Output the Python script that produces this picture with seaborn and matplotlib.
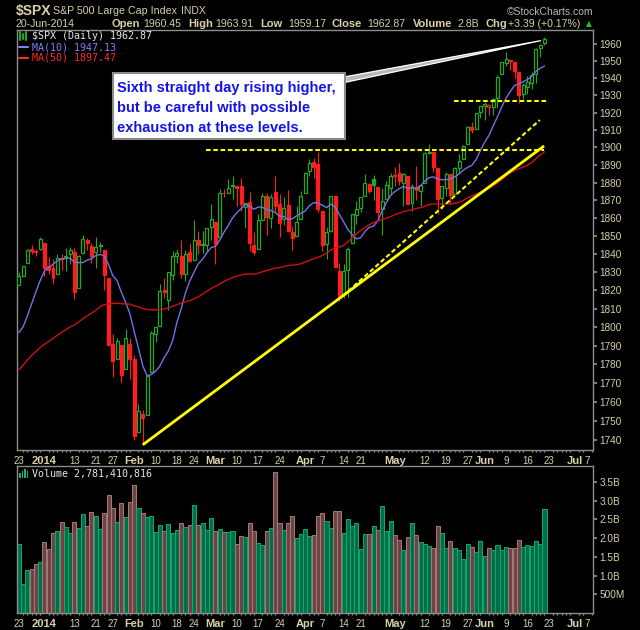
import numpy as np
import pandas as pd
import matplotlib
matplotlib.use('Agg')
import matplotlib.pyplot as plt
import matplotlib.ticker as mticker
from matplotlib.patches import Rectangle
from matplotlib.lines import Line2D
import seaborn as sns

sns.set_theme(style='dark', rc={'axes.facecolor': 'black', 'figure.facecolor': 'black',
                                'axes.edgecolor': '#8c8c8c', 'axes.linewidth': 1.0})
plt.rcParams['font.family'] = ['Liberation Sans', 'DejaVu Sans']

# trading calendar
holidays = ['2013-12-25', '2014-01-01', '2014-01-20', '2014-02-17',
            '2014-04-18', '2014-05-26', '2014-07-04']
days = pd.bdate_range('2013-12-23', '2014-07-11')
days = days[~days.isin(pd.to_datetime(holidays))]

# closes before the window (for moving averages)
prior_close = [1710.14, 1698.06, 1721.54, 1733.15, 1744.50, 1744.66, 1754.67, 1746.38, 1752.07, 1759.77,
               1762.11, 1771.95, 1763.31, 1756.54, 1761.64, 1767.93, 1762.97, 1770.49, 1747.15, 1770.61,
               1771.89, 1767.69, 1782.00, 1790.62, 1798.18, 1791.53, 1787.87, 1781.37, 1795.85, 1804.76,
               1802.48, 1802.75, 1807.23, 1805.81, 1800.90, 1795.15, 1792.81, 1785.03, 1805.09, 1808.37,
               1802.62, 1782.22, 1775.50, 1775.32, 1786.54, 1781.00, 1810.65, 1809.60, 1818.32]

open_ = [1822.9, 1828.0, 1834.96, 1842.97, 1841.5, 1842.6, 1845.9, 1833.2, 1832.3, 1828.7,
         1837.9, 1839.0, 1840.1, 1841.3, 1821.4, 1840.5, 1847.99, 1844.2, 1841.1, 1844.7,
         1842.3, 1826.96, 1791.0, 1783.0, 1790.2, 1777.2, 1790.9, 1782.7, 1743.8, 1753.4,
         1752.99, 1776.0, 1796.2, 1800.4, 1820.1, 1814.8, 1828.5, 1839.0, 1838.9, 1829.2,
         1841.1, 1836.8, 1847.7, 1845.8, 1844.9, 1855.1, 1857.7, 1849.2, 1874.1, 1874.2,
         1878.5, 1877.9, 1878.3, 1866.2, 1869.1, 1845.1, 1842.8, 1858.9, 1872.3, 1860.1,
         1874.5, 1867.7, 1859.5, 1867.1, 1852.1, 1850.1, 1859.2, 1873.96, 1886.6, 1891.4,
         1890.3, 1863.9, 1845.5, 1852.6, 1872.3, 1830.7, 1818.2, 1831.4, 1846.0, 1861.7,
         1865.8, 1872.6, 1879.3, 1881.97, 1877.7, 1865.0, 1870.8, 1877.1, 1884.4, 1885.3,
         1879.5, 1883.7, 1868.5, 1877.4, 1875.3, 1880.0, 1896.8, 1897.1, 1888.2, 1871.2,
         1876.7, 1884.9, 1873.3, 1888.2, 1893.3, 1902.0, 1911.8, 1910.6, 1920.3, 1923.9,
         1923.1, 1923.1, 1928.5, 1942.4, 1948.97, 1950.3, 1949.4, 1943.4, 1930.8, 1934.8,
         1937.2, 1942.7, 1957.5, 1960.45]
high = [1829.8, 1833.3, 1842.8, 1844.9, 1842.5, 1849.4, 1846.0, 1838.2, 1837.2, 1840.1,
        1840.0, 1843.2, 1843.8, 1843.5, 1839.3, 1850.8, 1848.6, 1846.0, 1849.3, 1846.9,
        1842.3, 1826.96, 1795.98, 1793.9, 1790.2, 1798.8, 1793.9, 1784.8, 1758.7, 1755.8,
        1774.1, 1798.0, 1799.9, 1823.5, 1826.6, 1830.3, 1841.7, 1842.9, 1847.5, 1842.2,
        1846.1, 1858.7, 1852.9, 1852.7, 1854.5, 1867.9, 1857.7, 1876.2, 1876.5, 1881.9,
        1883.6, 1877.9, 1882.4, 1868.4, 1874.4, 1852.4, 1862.3, 1873.8, 1874.1, 1873.5,
        1883.97, 1873.3, 1871.9, 1875.9, 1855.6, 1866.6, 1875.2, 1885.8, 1893.2, 1893.8,
        1897.3, 1864.0, 1854.95, 1872.4, 1872.5, 1835.1, 1834.2, 1844.0, 1862.3, 1869.6,
        1871.9, 1884.9, 1879.8, 1884.1, 1877.7, 1877.0, 1880.6, 1885.2, 1888.6, 1891.3,
        1885.5, 1883.7, 1879.0, 1889.1, 1878.8, 1897.1, 1902.2, 1897.1, 1888.2, 1878.3,
        1886.0, 1884.9, 1888.8, 1896.3, 1901.3, 1912.3, 1914.5, 1920.0, 1924.0, 1925.9,
        1925.1, 1928.6, 1941.7, 1949.4, 1955.6, 1950.9, 1949.4, 1943.4, 1937.3, 1941.2,
        1943.7, 1957.7, 1959.9, 1963.91]
low = [1822.9, 1828.0, 1834.96, 1839.8, 1838.8, 1842.4, 1827.7, 1829.1, 1823.7, 1828.7,
       1831.4, 1830.4, 1834.6, 1815.5, 1821.4, 1840.5, 1842.4, 1835.2, 1832.4, 1840.9,
       1820.1, 1790.3, 1772.9, 1783.0, 1770.5, 1777.2, 1772.3, 1739.7, 1743.8, 1737.9,
       1752.99, 1776.0, 1791.8, 1800.4, 1815.97, 1809.2, 1825.6, 1835.0, 1826.99, 1824.9,
       1835.6, 1836.8, 1840.2, 1840.7, 1841.1, 1847.7, 1834.4, 1849.2, 1871.6, 1874.2,
       1870.6, 1867.0, 1863.9, 1854.4, 1841.9, 1839.6, 1842.8, 1858.9, 1850.4, 1854.6,
       1863.5, 1849.7, 1855.96, 1852.6, 1842.1, 1850.1, 1859.2, 1873.96, 1883.8, 1882.7,
       1863.3, 1841.5, 1837.5, 1852.4, 1833.1, 1814.4, 1815.8, 1816.3, 1846.0, 1856.7,
       1863.2, 1872.6, 1873.9, 1870.2, 1859.7, 1850.6, 1870.8, 1872.7, 1878.0, 1878.5,
       1866.8, 1867.7, 1864.0, 1870.1, 1867.0, 1880.0, 1896.1, 1885.8, 1862.4, 1864.8,
       1872.4, 1868.1, 1873.3, 1885.4, 1893.3, 1902.0, 1908.5, 1910.6, 1916.6, 1915.98,
       1918.8, 1918.6, 1922.9, 1942.4, 1947.2, 1944.6, 1940.1, 1925.8, 1927.7, 1930.9,
       1933.6, 1937.0, 1952.3, 1959.17]
close = [1827.99, 1833.32, 1842.02, 1841.40, 1841.07, 1848.36, 1831.98, 1831.37, 1826.77, 1837.88,
         1837.49, 1838.13, 1842.37, 1819.20, 1838.88, 1848.38, 1845.89, 1838.70, 1843.80, 1844.86,
         1828.46, 1790.29, 1781.56, 1792.50, 1774.20, 1794.19, 1782.59, 1741.89, 1755.20, 1751.64,
         1773.43, 1797.02, 1799.84, 1819.75, 1819.26, 1829.83, 1838.63, 1840.76, 1828.75, 1839.78,
         1836.25, 1847.61, 1845.12, 1845.16, 1854.29, 1859.45, 1845.73, 1873.91, 1873.81, 1877.03,
         1878.04, 1877.17, 1867.63, 1868.20, 1846.34, 1841.13, 1858.83, 1872.25, 1860.77, 1872.01,
         1866.52, 1857.44, 1865.62, 1852.56, 1849.04, 1857.62, 1872.34, 1885.52, 1890.90, 1888.77,
         1865.09, 1845.04, 1851.96, 1872.18, 1833.08, 1815.69, 1830.61, 1842.98, 1862.31, 1864.85,
         1871.89, 1879.55, 1875.39, 1878.61, 1863.40, 1869.43, 1878.33, 1883.95, 1883.68, 1881.14,
         1884.66, 1867.72, 1878.21, 1875.63, 1878.48, 1896.65, 1897.45, 1888.53, 1870.85, 1877.86,
         1885.08, 1872.83, 1888.03, 1892.49, 1900.53, 1911.91, 1909.78, 1920.03, 1923.57, 1924.97,
         1924.24, 1927.88, 1940.46, 1949.44, 1951.27, 1950.79, 1943.89, 1930.11, 1936.16, 1937.78,
         1941.99, 1956.98, 1959.48, 1962.87]
# volume in billions of shares
volume = [1.85, 0.77, 1.16, 1.18, 1.31, 1.36, 1.90, 1.72, 2.14, 2.20,
          2.44, 2.30, 2.14, 2.44, 2.28, 2.65, 2.33, 2.70, 2.60, 2.25,
          2.68, 3.16, 2.81, 2.44, 2.94, 2.57, 2.97, 3.42, 2.81, 2.68,
          2.57, 2.60, 2.17, 2.36, 2.20, 2.38, 2.14, 2.22, 2.41, 2.30,
          2.36, 2.89, 2.36, 2.40, 2.22, 2.53, 2.20, 2.24, 2.17, 2.16,
          2.20, 1.85, 2.06, 2.03, 2.41, 2.20, 1.88, 1.81, 2.20, 2.28,
          3.77, 2.41, 2.22, 2.41, 2.60, 2.01, 2.12, 2.25, 2.06, 2.09,
          2.60, 2.68, 2.46, 2.28, 2.73, 2.73, 2.14, 2.52, 2.33, 2.41,
          1.72, 2.12, 2.12, 2.33, 2.22, 2.86, 2.20, 2.46, 2.09, 1.96,
          1.69, 2.04, 2.41, 2.09, 1.90, 1.85, 1.80, 1.74, 2.33, 2.14,
          1.74, 1.93, 1.74, 1.69, 1.45, 1.85, 1.77, 1.64, 1.93, 1.53,
          1.74, 1.69, 1.82, 1.69, 1.77, 1.74, 1.74, 1.96, 1.77, 1.82,
          1.80, 1.93, 1.85, 2.781410816]

tick_dates = ['2013-12-23', '2014-01-02', '2014-01-13', '2014-01-21', '2014-01-27', '2014-02-03',
              '2014-02-10', '2014-02-18', '2014-02-24', '2014-03-03', '2014-03-10', '2014-03-17',
              '2014-03-24', '2014-04-01', '2014-04-07', '2014-04-14', '2014-04-21', '2014-05-01',
              '2014-05-12', '2014-05-19', '2014-05-27', '2014-06-02', '2014-06-09', '2014-06-16',
              '2014-06-23', '2014-07-01', '2014-07-07']
tick_labels = ['23', '2014', '13', '21', '27', 'Feb', '10', '18', '24', 'Mar', '10', '17', '24',
               'Apr', '7', '14', '21', 'May', '12', '19', '27', 'Jun', '9', '16', '23', 'Jul', '7']

# hand-drawn trend lines: (day index, price)
support_line = [(29, 1737.3), (122.9, 1900.8)]
dashed_trend = [(75.8, 1816.9), (121.9, 1915.7)]
resist_1 = [(43.8, 1898.5), (122.9, 1898.5)]
resist_2 = [(101.8, 1926.9), (123.8, 1926.9)]

note = ['Sixth straight day rising higher,', 'but be careful with possible',
        'exhaustion at these levels.']

GREEN = '#22a822'
RED = '#ff1c1c'
TXT = '#d8d0a8'

o = np.array(open_); h = np.array(high); l = np.array(low); c = np.array(close)
x = np.arange(len(c))
prev = np.r_[prior_close[-1], c[:-1]]
up = c >= prev
col = np.where(up, GREEN, RED)
hollow = c >= o

allc = pd.Series(prior_close + close)
ma10 = allc.rolling(10).mean().values[-len(c):]
ma50 = allc.rolling(50).mean().values[-len(c):]

fig = plt.figure(figsize=(6.4, 6.3), dpi=100)
ax = fig.add_axes([16.5 / 640, 1 - 450 / 630, (593 - 16.5) / 640, 420 / 630])
axv = fig.add_axes([16.5 / 640, 1 - 613 / 630, (593 - 16.5) / 640, (613 - 465.7) / 630])

# candles
ax.vlines(x, l, h, colors=col, lw=0.8, zorder=2)
bottom = np.minimum(o, c)
height = np.maximum(np.abs(c - o), 0.25)
ax.bar(x, height, bottom=bottom, width=0.7, color=np.where(hollow, 'black', col),
       edgecolor=col, linewidth=0.9, zorder=3)

sns.lineplot(x=x, y=ma10, color='#7272e6', lw=1.0, ax=ax, zorder=4)
sns.lineplot(x=x, y=ma50, color='#d01010', lw=1.0, ax=ax, zorder=4)

ax.plot(*zip(*support_line), color='#ffff00', lw=2.0, zorder=5, solid_capstyle='butt')
for seg in (dashed_trend, resist_1, resist_2):
    ax.plot(*zip(*seg), color='#ffff00', lw=1.5, dashes=(2.2, 1.3), zorder=5)

ax.set_yscale('log')
ax.set_ylim(1734.6, 1968.3)
price_ticks = list(range(1740, 1961, 10))
ax.yaxis.tick_right()
ax.set_yticks(price_ticks, [str(t) for t in price_ticks])
ax.yaxis.set_minor_locator(mticker.NullLocator())
ax.yaxis.set_minor_formatter(mticker.NullFormatter())

# volume
vcol = np.where(up, '#006e46', '#6c4444')
vedge = np.where(up, '#12a872', '#a87a7a')
axv.bar(x, volume, width=0.95, color=vcol, edgecolor=vedge, linewidth=0.7)
axv.set_ylim(0, 3.935)
axv.yaxis.tick_right()
vt = [0.5, 1.0, 1.5, 2.0, 2.5, 3.0, 3.5]
axv.set_yticks(vt, ['500M', '1.0B', '1.5B', '2.0B', '2.5B', '3.0B', '3.5B'])

tick_pos = [days.get_loc(pd.Timestamp(d)) for d in tick_dates]
for a in (ax, axv):
    a.set_xlim(-0.54, 134.35)
    a.set_xticks(tick_pos, tick_labels)
    a.set_xticks(np.arange(0, 135), minor=True)
    a.tick_params(axis='x', which='major', length=2.5, color='#8c8c8c', labelsize=7,
                  labelcolor=TXT, pad=1.5)
    a.tick_params(axis='x', which='minor', length=1.5, color='#8c8c8c', bottom=True)
    a.tick_params(axis='y', which='major', length=3, color='#8c8c8c', labelsize=7.2,
                  labelcolor=TXT, pad=1.5, right=True)
    for lab in a.get_xticklabels():
        if not lab.get_text().isdigit() or lab.get_text() == '2014':
            lab.set_fontweight('bold')
            lab.set_fontsize(8)
    a.set_xlabel('')
    a.set_ylabel('')
    for s in a.spines.values():
        s.set_color('#8c8c8c')


def px(xp, yp):
    return xp / 640, 1 - yp / 630


# header
fig.text(*px(16, 10.5), '$SPX', color=TXT, fontsize=10, fontweight='bold', va='center')
fig.text(*px(53, 11), 'S&P 500 Large Cap Index', color=TXT, fontsize=7.7, va='center')
fig.text(*px(181, 11), 'INDX', color=TXT, fontsize=7.5, va='center')
fig.text(*px(593, 12), '©StockCharts.com', color='#b8b8b8', fontsize=7.5, va='center', ha='right')
fig.text(*px(16, 24), '20-Jun-2014', color=TXT, fontsize=7.6, va='center')
parts = [(111, 'Open', True), (143, '1960.45', False), (188, 'High', True), (215.5, '1963.91', False),
         (260, 'Low', True), (288.6, '1959.17', False), (331.4, 'Close', True), (367, '1962.87', False),
         (413, 'Volume', True), (457, '2.8B', False), (486, 'Chg', True), (508, '+3.39 (+0.17%)', False)]
for xp, s, b in parts:
    fig.text(*px(xp, 24), s, color=TXT, fontsize=8 if b else 7.6,
             fontweight='bold' if b else 'normal', va='center')
fig.text(*px(586, 24), '▲', color='#20c020', fontsize=5.5, va='center', family='DejaVu Sans')

# legend inside panels
mono = 'DejaVu Sans Mono'
fig.text(*px(32, 36), '$SPX (Daily) 1962.87', color='#e8e8e8', fontsize=7.2, va='center', family=mono)
fig.text(*px(32, 47), 'MA(10) 1947.13', color='#8080ff', fontsize=7.2, va='center', family=mono)
fig.text(*px(32, 58), 'MA(50) 1897.47', color='#ff2a2a', fontsize=7.2, va='center', family=mono)
fig.text(*px(32, 473.5), 'Volume 2,781,410,816', color='#e8e8e8', fontsize=7.2, va='center', family=mono)
for (x0, y0, x1, y1, cc) in [(19, 47, 28, 47, '#8080ff'), (19, 58, 28, 58, '#ff2a2a'),
                             (19.5, 32, 19.5, 40, GREEN), (22.5, 34, 22.5, 39, GREEN),
                             (25.5, 32, 25.5, 40, GREEN)]:
    fig.add_artist(Line2D([x0 / 640, x1 / 640], [1 - y0 / 630, 1 - y1 / 630], color=cc, lw=1.5))
for xb, ht in [(19, 5), (21.5, 7), (24, 9), (26.5, 7)]:
    fig.add_artist(Rectangle(px(xb, 478), 1.6 / 640, ht / 630, color='#18b070', lw=0))

# callout
ax.annotate('', xy=(122.7, 1962.3), xycoords='data', xytext=(343, 630 - 80),
            textcoords='figure pixels',
            arrowprops=dict(arrowstyle='wedge,tail_width=0.28,shrink_factor=0.5',
                            fc='#b8b8b8', ec='white', lw=0.9, mutation_scale=14),
            annotation_clip=False, zorder=6)
fig.add_artist(Rectangle(px(113, 139), 232 / 640, 66 / 630, transform=fig.transFigure,
                         fc='white', ec='#8a8a8a', lw=1.5, zorder=10))
for i, s in enumerate(note):
    fig.text(*px(117, 88 + 20 * i), s, color='#1414e6', fontsize=10.5, fontweight='bold',
             va='center', zorder=11)

fig.savefig('out.png', dpi=100, facecolor='black')
